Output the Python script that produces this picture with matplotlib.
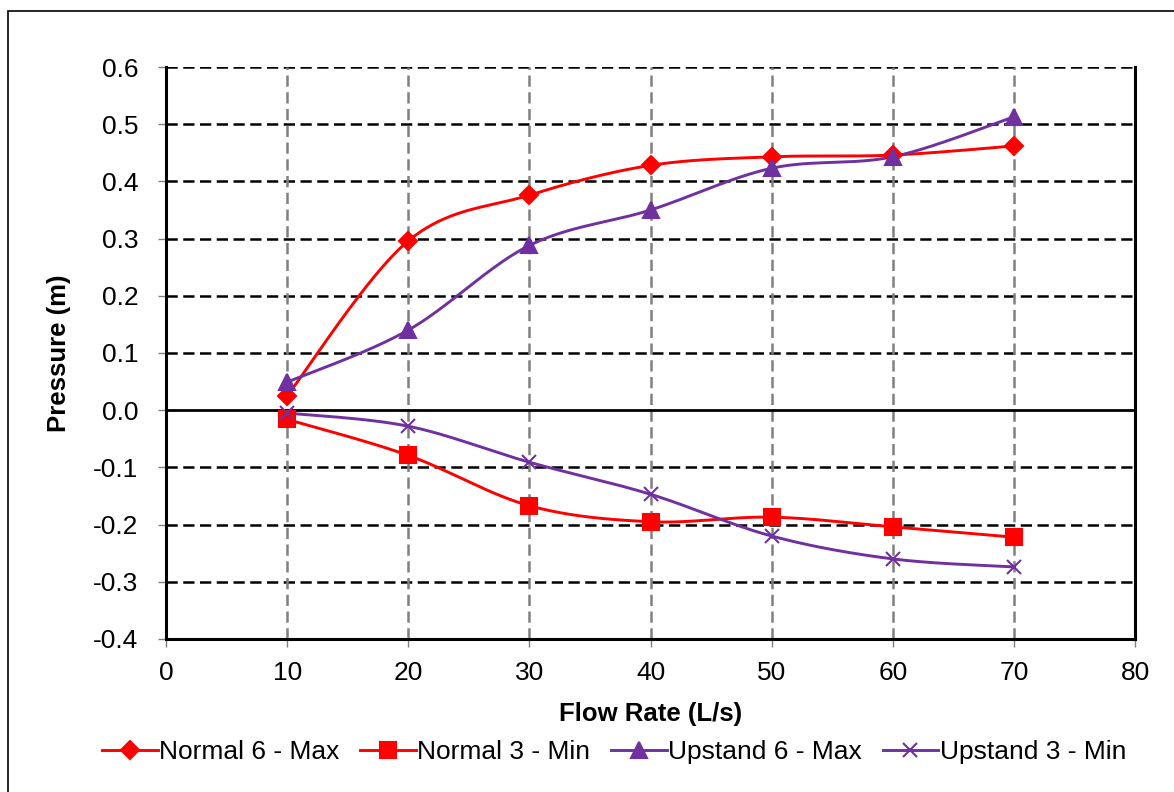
import matplotlib.pyplot as plt
import numpy as np
from matplotlib.patches import Rectangle

plt.rcParams["font.family"] = ["Liberation Sans", "DejaVu Sans"]

flow = [10, 20, 30, 40, 50, 60, 70]
normal6_max = [0.025, 0.296, 0.376, 0.428, 0.443, 0.446, 0.462]
normal3_min = [-0.016, -0.079, -0.167, -0.195, -0.187, -0.204, -0.222]
upstand6_max = [0.049, 0.140, 0.288, 0.350, 0.423, 0.443, 0.513]
upstand3_min = [-0.005, -0.028, -0.091, -0.147, -0.220, -0.260, -0.274]
ytick_vals = [-0.4, -0.3, -0.2, -0.1, 0.0, 0.1, 0.2, 0.3, 0.4, 0.5, 0.6]
ytick_labels = ["-0.4", "-0.3", "-0.2", "-0.1", "0.0", "0.1", "0.2", "0.3", "0.4", "0.5", "0.6"]


def excel_smooth(x, y, n=40):
    # cubic bezier through points, like Excel's "smoothed line"
    pts = np.column_stack([np.asarray(x, float), np.asarray(y, float)])
    out = [pts[0]]
    for i in range(len(pts) - 1):
        p0 = pts[i - 1] if i > 0 else pts[i]
        p1 = pts[i]
        p2 = pts[i + 1]
        p3 = pts[i + 2] if i + 2 < len(pts) else pts[i + 1]
        c1 = p1 + (p2 - p0) / 6
        c2 = p2 - (p3 - p1) / 6
        t = np.linspace(0, 1, n)[1:, None]
        seg = ((1 - t) ** 3) * p1 + 3 * ((1 - t) ** 2) * t * c1 + 3 * (1 - t) * t ** 2 * c2 + t ** 3 * p2
        out.extend(seg)
    out = np.array(out)
    return out[:, 0], out[:, 1]


fig = plt.figure(figsize=(11.74, 7.92), dpi=100)
ax = fig.add_axes([0.1414, 0.1932, 0.8254, 0.7222])

red = "#ff0000"
purple = "#7030a0"

series = [
    ("Normal 6 - Max", normal6_max, red, "D", 9),
    ("Normal 3 - Min", normal3_min, red, "s", 11.5),
    ("Upstand 6 - Max", upstand6_max, purple, "^", 11),
    ("Upstand 3 - Min", upstand3_min, purple, "x", 10),
]

for label, vals, col, mk, ms in series:
    sx, sy = excel_smooth(flow, vals)
    ax.plot(sx, sy, color=col, lw=2.1, zorder=4)
    ax.plot(flow, vals, ls="none", marker=mk, ms=ms, color=col, mew=1.5, zorder=5)
    ax.plot([], [], color=col, lw=2.1, marker=mk, ms=ms, mew=1.5, label=label)

ax.set_xlim(0, 80)
ax.set_ylim(-0.4, 0.6)
ax.set_xticks(range(0, 81, 10))
ax.set_yticks(ytick_vals)
ax.set_yticklabels(ytick_labels)

for v in ytick_vals[1:]:
    if v == 0.0:
        ax.axhline(0, color="black", lw=2, zorder=2)
    else:
        ax.axhline(v, color="black", lw=1.8, ls=(0, (4.5, 2.2)), zorder=1)
for v in range(10, 80, 10):
    ax.axvline(v, color="#808080", lw=1.8, ls=(0, (4.5, 2.2)), zorder=1)

ax.spines["top"].set_visible(False)
for s in ["left", "right", "bottom"]:
    ax.spines[s].set_linewidth(2.2)
    ax.spines[s].set_color("black")

ax.tick_params(axis="both", direction="out", length=6, width=1, color="#808080",
               labelsize=19)
ax.tick_params(axis="x", pad=10)
ax.tick_params(axis="y", pad=14)

ax.set_xlabel("Flow Rate (L/s)", fontsize=18.5, fontweight="bold", labelpad=12)
ax.set_ylabel("Pressure (m)", fontsize=18.5, fontweight="bold", labelpad=16)

fig.legend(loc="center", bbox_to_anchor=(0.523, 0.05), ncol=4, frameon=False,
           fontsize=19, handlelength=2.1, columnspacing=0.8, handletextpad=0.05)

fig.patches.append(Rectangle((7.5 / 1174, -0.1), 1.2, 1 - 11 / 792 + 0.1,
                             transform=fig.transFigure, fill=False, lw=1.2,
                             edgecolor="black"))

fig.savefig("out.png", dpi=100)
